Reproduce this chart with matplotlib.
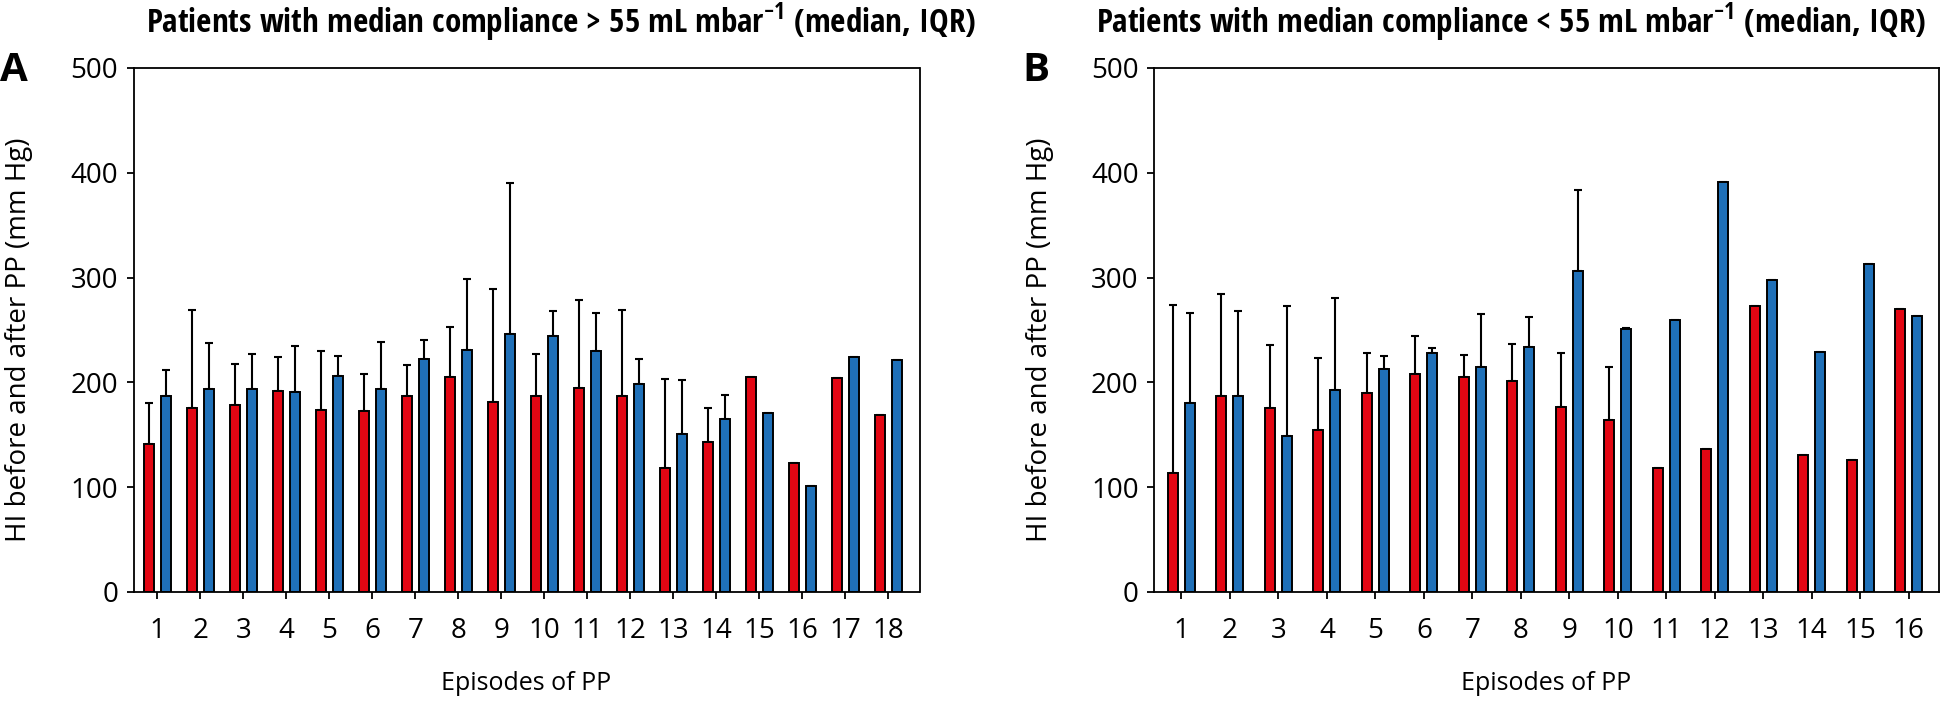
import numpy as np
import matplotlib
matplotlib.use("Agg")
import matplotlib.pyplot as plt
from matplotlib import font_manager

# ---- data ----
nan = np.nan
episodes_a = [str(i) for i in range(1, 19)]
before_a = [141, 176, 178, 192, 174, 173, 187, 205, 181, 187, 195, 187, 118, 143, 205, 123, 204, 169]
before_a_q3 = [180, 269, 218, 224, 230, 208, 217, 253, 289, 227, 279, 269, 203, 176, nan, nan, nan, nan]
after_a = [187, 194, 194, 191, 206, 194, 222, 231, 246, 244, 230, 198, 151, 165, 171, 101, 224, 221]
after_a_q3 = [212, 238, 227, 235, 225, 239, 240, 299, 390, 268, 266, 222, 202, 188, nan, nan, nan, nan]

episodes_b = [str(i) for i in range(1, 17)]
before_b = [114, 187, 176, 155, 190, 208, 205, 201, 177, 164, 118, 136, 273, 131, 126, 270]
before_b_q3 = [274, 284, 236, 223, 228, 244, 226, 237, 228, 215, nan, nan, nan, nan, nan, nan]
after_b = [180, 187, 149, 193, 213, 228, 215, 234, 306, 251, 260, 391, 298, 229, 313, 263]
after_b_q3 = [266, 268, 273, 281, 225, 233, 265, 262, 384, 252, nan, nan, nan, nan, nan, nan]

RED = "#E30613"
BLUE = "#1F70B8"

# ---- fonts ----
names = {f.name for f in font_manager.fontManager.ttflist}
base = "Open Sans" if "Open Sans" in names else "DejaVu Sans"
title_font = base
for cand in ["Liberation Sans Narrow", "Open Sans Condensed", "Roboto Condensed", "Roboto"]:
    if cand in names:
        title_font = cand
        break

plt.rcParams["font.family"] = [base, "DejaVu Sans"]
plt.rcParams["mathtext.fontset"] = "custom"
plt.rcParams["mathtext.rm"] = title_font
plt.rcParams["mathtext.bf"] = title_font + ":bold"

W, H = 1943, 702
fig = plt.figure(figsize=(W / 100, H / 100), dpi=100)
axA = fig.add_axes([133.5 / W, 110 / H, 786 / W, 524 / H])
axB = fig.add_axes([1154 / W, 110 / H, 785 / W, 524 / H])


def panel(ax, cats, before, before_q3, after, after_q3, off, width, xlim):
    n = len(cats)
    x = np.arange(1, n + 1)
    ekw = dict(ecolor="black", elinewidth=1.5, capsize=2.6, capthick=1.5, zorder=1)
    for vals, q3, sign, col in [(before, before_q3, -1, RED), (after, after_q3, 1, BLUE)]:
        vals = np.array(vals, float)
        err = np.array(q3, float) - vals
        ax.bar(x + sign * off, vals, width, color=col, edgecolor="black",
               linewidth=1.4, yerr=[np.zeros(n), err], error_kw=ekw, zorder=2)
    ax.set_xlim(*xlim)
    ax.set_ylim(0, 500)
    ax.set_xticks(x)
    ax.set_xticklabels(cats)
    ax.set_yticks(range(0, 501, 100))
    ax.tick_params(axis="both", direction="out", length=5, width=1.3, labelsize=20, colors="black")
    ax.tick_params(axis="x", pad=13)
    ax.tick_params(axis="y", pad=6)
    for s in ax.spines.values():
        s.set_linewidth(1.3)
    ax.set_ylabel("HI before and after PP (mm Hg)", fontsize=18)
    ax.yaxis.set_label_coords(-0.128, 0.481)
    ax.set_xlabel("Episodes of PP", fontsize=18)
    ax.xaxis.set_label_coords(0.5, -0.15)


panel(axA, episodes_a, before_a, before_a_q3, after_a, after_a_q3, 0.194, 0.235, (0.442, 18.726))
panel(axB, episodes_b, before_b, before_b_q3, after_b, after_b_q3, 0.175, 0.206, (0.433, 16.625))

# panel letters
fig.text(0 / W, 1 - 51 / H, "A", fontsize=29, fontweight="bold", ha="left", va="top")
fig.text(1022 / W, 1 - 51 / H, "B", fontsize=29, fontweight="bold", ha="left", va="top")

# titles, sized to the reference width
titles = [
    (561, r"Patients with median compliance > 55 mL mbar$^{\mathbf{-1}}$ (median, IQR)"),
    (1511, r"Patients with median compliance < 55 mL mbar$^{\mathbf{-1}}$ (median, IQR)"),
]
for cx, txt in titles:
    t = fig.text(cx / W, 1 - 22 / H, txt, fontsize=21, fontweight="bold",
                 family=[title_font, "DejaVu Sans"], ha="center", va="center")
    fig.canvas.draw()
    w = t.get_window_extent().width
    t.set_fontsize(21 * 830 / w)

# y labels sized to the reference length (about 411 px)
fig.canvas.draw()
for ax in (axA, axB):
    lab = ax.yaxis.label
    h = lab.get_window_extent().height
    lab.set_fontsize(18 * 405 / h)

fig.savefig("out.png", dpi=100)
